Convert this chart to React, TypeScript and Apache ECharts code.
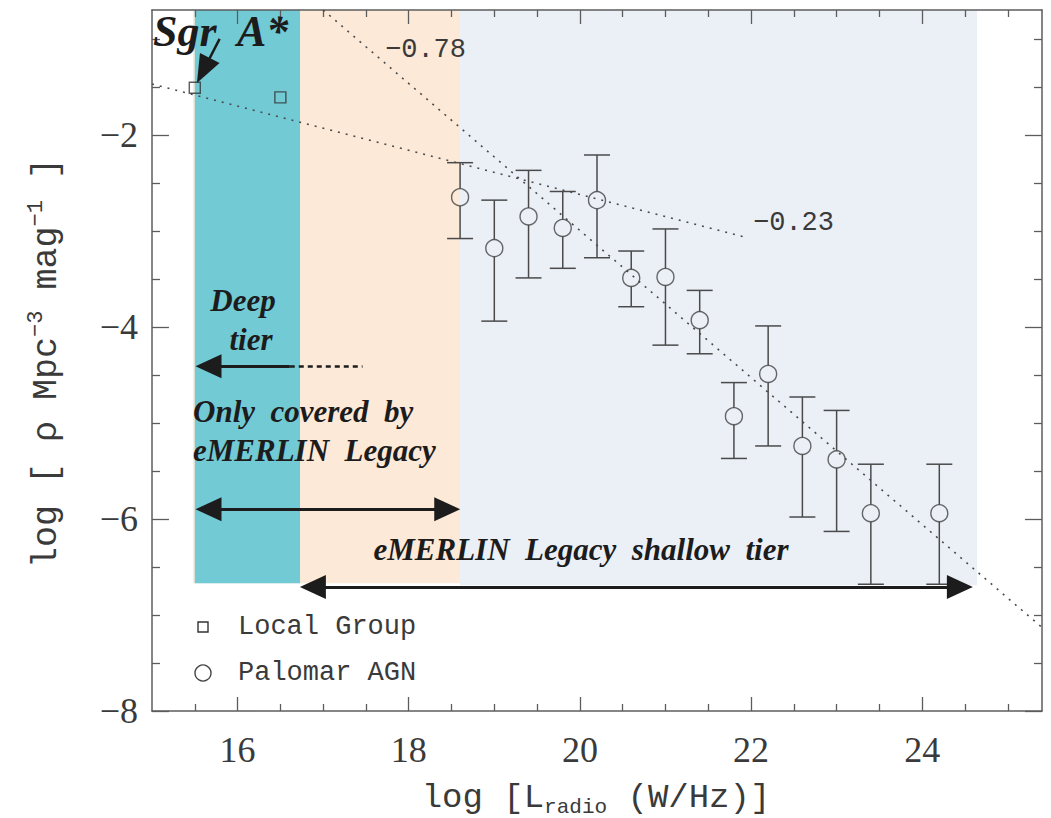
import { useEffect, useRef } from "react";
import * as echarts from "echarts";

// ---- axis ticks ----
const xMajorTicks = [16, 18, 20, 22, 24];
const xMinorTicks = [15.5, 16.5, 17, 17.5, 18.5, 19, 19.5, 20.5, 21, 21.5, 22.5, 23, 23.5, 24.5, 25];
const yMajorTicks = [-2, -4, -6, -8];
const yMinorTicks = [-1, -1.5, -2.5, -3, -3.5, -4.5, -5, -5.5, -6.5, -7, -7.5];

// ---- Palomar AGN (log L_radio, log rho, upper, lower) ----
const agnLogL = [18.6, 19.0, 19.4, 19.8, 20.2, 20.6, 21.0, 21.4, 21.8, 22.2, 22.6, 23.0, 23.4, 24.2];
const agnLogRho = [-2.65, -3.18, -2.85, -2.97, -2.68, -3.49, -3.48, -3.93, -4.93, -4.49, -5.24, -5.38, -5.94, -5.94];
const agnUpper = [-2.29, -2.68, -2.37, -2.59, -2.21, -3.21, -2.98, -3.62, -4.58, -3.99, -4.73, -4.87, -5.43, -5.43];
const agnLower = [-3.08, -3.94, -3.49, -3.39, -3.28, -3.79, -4.19, -4.28, -5.37, -5.24, -5.98, -6.13, -6.68, -6.68];

// ---- Local Group ----
const localLogL = [15.5, 16.5];
const localLogRho = [-1.51, -1.61];

// ---- power-law fits ----
const fitShallowX = [15.0, 21.95]; // slope -0.23
const fitShallowY = [-1.47, -3.07];
const fitSteepX = [17.0, 25.4]; // slope -0.78
const fitSteepY = [-0.7, -7.13];

// ---- shaded coverage bands (x0, x1, bottom y) ----
const bandX0 = [15.48, 18.6, 15.5];
const bandX1 = [18.6, 24.64, 16.73];
const bandBottom = [-6.67, -6.69, -6.67];
const bandColors = ["#fce9d7", "#ebf0f7", "#72cad5"];

const legendNames = ["Local Group", "Palomar AGN"];

const X_MIN = 15;
const X_MAX = 25.4;
const Y_MIN = -8;
const Y_MAX = -0.7;

const axisColor = "#5c5c5c";
const textColor = "#3a3a3a";
const annColor = "#1c1c1c";

export default function App() {
  const ref = useRef<HTMLDivElement>(null);

  useEffect(() => {
    document.body.style.margin = "0";
    const chart = echarts.init(ref.current!, null, { renderer: "svg" });

    const minus = (v: number) => (v < 0 ? "\u2212" + Math.abs(v) : String(v));

    const mkX = (position: string, ticks: number[], len: number, line: boolean, labels: boolean) => ({
      type: "value",
      gridIndex: 0,
      position,
      min: X_MIN,
      max: X_MAX,
      axisLine: { show: line, onZero: false, lineStyle: { color: axisColor, width: 1.5 } },
      axisTick: { show: true, inside: true, length: len, customValues: ticks, lineStyle: { color: axisColor, width: 1.3 } },
      axisLabel: labels
        ? { show: true, customValues: ticks, margin: 21, color: textColor, fontFamily: "Liberation Serif", fontSize: 36, formatter: (v: number) => minus(v) }
        : { show: false },
      splitLine: { show: false },
    });
    const mkY = (position: string, ticks: number[], len: number, line: boolean, labels: boolean) => ({
      type: "value",
      gridIndex: 0,
      position,
      min: Y_MIN,
      max: Y_MAX,
      axisLine: { show: line, onZero: false, lineStyle: { color: axisColor, width: 1.5 } },
      axisTick: { show: true, inside: true, length: len, customValues: ticks, lineStyle: { color: axisColor, width: 1.3 } },
      axisLabel: labels
        ? { show: true, customValues: ticks, margin: 14, color: textColor, fontFamily: "Liberation Serif", fontSize: 36, formatter: (v: number) => minus(v) }
        : { show: false },
      splitLine: { show: false },
    });

    const bandData = bandX0.map((x0, i) => [x0, bandX1[i], bandBottom[i], i]);
    const errData = agnLogL.map((x, i) => [x, agnLower[i], agnUpper[i], agnLogRho[i]]);

    const arrowLine = (width: number, type: any = "solid") => ({ color: annColor, width, type });
    const head = { symbol: "triangle", symbolSize: [24, 26] };
    const none = { symbol: "none" };

    const legendFont = '27px "Liberation Mono"';

    const option: any = {
      animation: false,
      backgroundColor: "#ffffff",
      grid: { left: 152, top: 10, right: 9, bottom: 107, containLabel: false },
      xAxis: [
        mkX("bottom", xMajorTicks, 14, true, true),
        mkX("bottom", xMinorTicks, 7, false, false),
        mkX("top", xMajorTicks, 14, true, false),
        mkX("top", xMinorTicks, 7, false, false),
      ],
      yAxis: [
        mkY("left", yMajorTicks, 17, true, true),
        mkY("left", yMinorTicks, 8, false, false),
        mkY("right", yMajorTicks, 17, true, false),
        mkY("right", yMinorTicks, 8, false, false),
      ],
      series: [
        {
          type: "custom",
          name: "bands",
          silent: true,
          z: 0,
          data: bandData,
          encode: { x: [0, 1], y: 2 },
          renderItem: (params: any, api: any) => {
            const p0 = api.coord([api.value(0), Y_MAX]);
            const p1 = api.coord([api.value(1), api.value(2)]);
            return {
              type: "rect",
              shape: { x: p0[0], y: p0[1], width: p1[0] - p0[0], height: p1[1] - p0[1] },
              style: { fill: bandColors[api.value(3)] },
            };
          },
        },
        {
          type: "line",
          name: "fit -0.23",
          silent: true,
          z: 2,
          showSymbol: false,
          data: fitShallowX.map((x, i) => [x, fitShallowY[i]]),
          lineStyle: { color: "#4a4a4a", width: 1.6, type: [2, 6] },
        },
        {
          type: "line",
          name: "fit -0.78",
          silent: true,
          z: 2,
          showSymbol: false,
          data: fitSteepX.map((x, i) => [x, fitSteepY[i]]),
          lineStyle: { color: "#4a4a4a", width: 1.6, type: [2, 6] },
          markLine: {
            silent: true,
            z: 6,
            label: { show: false },
            data: [
              [
                { coord: [16.61, -4.41], ...none, lineStyle: arrowLine(3) },
                { coord: [15.66, -4.41], ...head },
              ],
              [
                { coord: [16.61, -4.41], ...none, lineStyle: arrowLine(2.5, [5, 4]) },
                { coord: [17.46, -4.41], ...none },
              ],
              [
                { coord: [15.66, -5.9], ...head, lineStyle: arrowLine(3) },
                { coord: [18.45, -5.9], ...head },
              ],
              [
                { coord: [16.88, -6.71], ...head, lineStyle: arrowLine(3) },
                { coord: [24.44, -6.71], ...head },
              ],
              [
                { coord: [15.79, -1.0], ...none, lineStyle: arrowLine(2.5) },
                { coord: [15.6, -1.33], symbol: "triangle", symbolSize: [22, 28] },
              ],
            ],
          },
        },
        {
          type: "custom",
          name: "error bars",
          silent: true,
          z: 3,
          data: errData,
          encode: { x: 0, y: [1, 2] },
          renderItem: (params: any, api: any) => {
            const x = api.value(0);
            const lo = api.coord([x, api.value(1)]);
            const hi = api.coord([x, api.value(2)]);
            const c = api.coord([x, api.value(3)]);
            const r = 8.5;
            const hw = 13;
            const style = { stroke: "#4a4a4a", lineWidth: 1.5, fill: null };
            return {
              type: "group",
              children: [
                { type: "line", shape: { x1: c[0], y1: hi[1], x2: c[0], y2: c[1] - r }, style },
                { type: "line", shape: { x1: c[0], y1: c[1] + r, x2: c[0], y2: lo[1] }, style },
                { type: "line", shape: { x1: c[0] - hw, y1: lo[1], x2: c[0] + hw, y2: lo[1] }, style },
                { type: "line", shape: { x1: c[0] - hw, y1: hi[1], x2: c[0] + hw, y2: hi[1] }, style },
              ],
            };
          },
        },
        {
          type: "scatter",
          name: legendNames[1],
          z: 4,
          symbol: "circle",
          symbolSize: 17,
          data: agnLogL.map((x, i) => [x, agnLogRho[i]]),
          itemStyle: { color: "rgba(0,0,0,0)", borderColor: "#444444", borderWidth: 1.4 },
        },
        {
          type: "scatter",
          name: legendNames[0],
          z: 4,
          symbol: "rect",
          symbolSize: 11,
          data: localLogL.map((x, i) => [x, localLogRho[i]]),
          itemStyle: { color: "rgba(0,0,0,0)", borderColor: "#333333", borderWidth: 1.4 },
        },
      ],
      graphic: [
        // legend
        {
          type: "rect",
          z: 10,
          shape: { x: 198, y: 622, width: 10, height: 10 },
          style: { fill: "none", stroke: "#333333", lineWidth: 1.4 },
        },
        {
          type: "circle",
          z: 10,
          shape: { cx: 203, cy: 673, r: 8 },
          style: { fill: "none", stroke: "#444444", lineWidth: 1.4 },
        },
        {
          type: "text",
          x: 238,
          y: 627,
          z: 10,
          style: { text: legendNames[0], fill: textColor, font: legendFont, textAlign: "left", textVerticalAlign: "middle" },
        },
        {
          type: "text",
          x: 238,
          y: 673,
          z: 10,
          style: { text: legendNames[1], fill: textColor, font: legendFont, textAlign: "left", textVerticalAlign: "middle" },
        },
        // annotations
        {
          type: "text",
          x: 153,
          y: 31,
          z: 10,
          style: { text: "Sgr  A*", fill: annColor, font: 'italic bold 44px "Liberation Serif"', textAlign: "left", textVerticalAlign: "middle" },
        },
        {
          type: "text",
          x: 385,
          y: 50,
          z: 10,
          style: { text: "\u22120.78", fill: textColor, font: legendFont, textAlign: "left", textVerticalAlign: "middle" },
        },
        {
          type: "text",
          x: 753,
          y: 223,
          z: 10,
          style: { text: "\u22120.23", fill: textColor, font: legendFont, textAlign: "left", textVerticalAlign: "middle" },
        },
        {
          type: "text",
          x: 243,
          y: 300,
          z: 10,
          style: { text: "Deep", fill: annColor, font: 'italic bold 31px "Liberation Serif"', textAlign: "center", textVerticalAlign: "middle" },
        },
        {
          type: "text",
          x: 251,
          y: 339,
          z: 10,
          style: { text: "tier", fill: annColor, font: 'italic bold 31px "Liberation Serif"', textAlign: "center", textVerticalAlign: "middle" },
        },
        {
          type: "text",
          x: 193,
          y: 411,
          z: 10,
          style: { text: "Only  covered  by", fill: annColor, font: 'italic bold 31px "Liberation Serif"', textAlign: "left", textVerticalAlign: "middle" },
        },
        {
          type: "text",
          x: 193,
          y: 450,
          z: 10,
          style: { text: "eMERLIN  Legacy", fill: annColor, font: 'italic bold 31px "Liberation Serif"', textAlign: "left", textVerticalAlign: "middle" },
        },
        {
          type: "text",
          x: 581,
          y: 549,
          z: 10,
          style: { text: "eMERLIN  Legacy  shallow  tier", fill: annColor, font: 'italic bold 31px "Liberation Serif"', textAlign: "center", textVerticalAlign: "middle" },
        },
        // axis titles
        {
          type: "text",
          x: 596,
          y: 798,
          z: 10,
          style: {
            text: "{a|log [L}{s|radio}{a| (W/Hz)]}",
            textAlign: "center",
            textVerticalAlign: "middle",
            rich: {
              a: { fontFamily: "Liberation Mono", fontSize: 34, fill: textColor, lineHeight: 40, verticalAlign: "middle" },
              s: { fontFamily: "Liberation Mono", fontSize: 21, fill: textColor, lineHeight: 40, verticalAlign: "bottom" },
            },
          },
        },
        {
          type: "text",
          x: 47,
          y: 363,
          z: 10,
          rotation: Math.PI / 2,
          style: {
            text: "{a|log [ \u03c1 Mpc}{s|\u22123}{a| mag}{s|\u22121}{a| ]}",
            textAlign: "center",
            textVerticalAlign: "middle",
            rich: {
              a: { fontFamily: "Liberation Mono", fontSize: 35, fill: textColor, lineHeight: 44, verticalAlign: "middle" },
              s: { fontFamily: "Liberation Mono", fontSize: 22, fill: textColor, lineHeight: 44, verticalAlign: "top" },
            },
          },
        },
      ],
    };

    chart.setOption(option);
    return () => chart.dispose();
  }, []);

  return <div ref={ref} style={{ width: 1051, height: 818 }} />;
}
